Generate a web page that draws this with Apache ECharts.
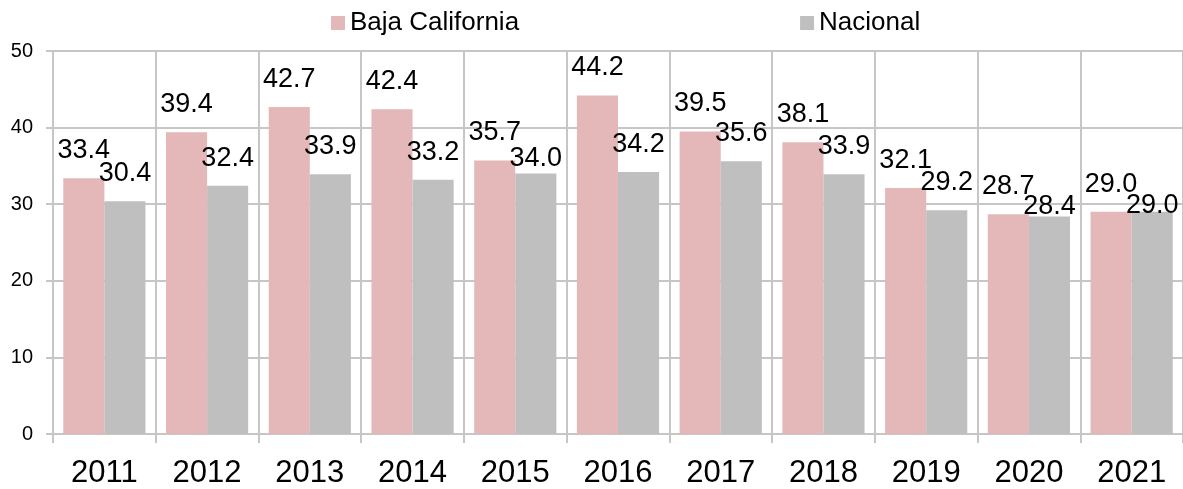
<!DOCTYPE html>
<html>
<head>
<meta charset="utf-8">
<script src="https://cdn.jsdelivr.net/npm/echarts@6/dist/echarts.min.js"></script>
<style>
    html, body { margin: 0; padding: 0; background: #fff; }
    #chart { width: 1183px; height: 489px; }
</style>
</head>
<body>
<div id="chart"></div>
<script>
var years = ['2011', '2012', '2013', '2014', '2015', '2016', '2017', '2018', '2019', '2020', '2021'];
var bajaCalifornia = [33.4, 39.4, 42.7, 42.4, 35.7, 44.2, 39.5, 38.1, 32.1, 28.7, 29.0];
var nacional = [30.4, 32.4, 33.9, 33.2, 34.0, 34.2, 35.6, 33.9, 29.2, 28.4, 29.0];

var myChart = echarts.init(document.getElementById('chart'));
var font = '"Liberation Sans", Arial, sans-serif';
var gridColor = '#c6c6c6';

// some labels were pushed down in the original to avoid overlaps
var nacionalLabelShift = { 4: 12, 9: 18, 10: 21 };

var labelStyle = {
    show: true,
    position: 'top',
    distance: 14,
    color: '#000',
    fontSize: 27,
    fontFamily: font,
    formatter: function (p) { return p.value.toFixed(1); }
};

var nacionalData = nacional.map(function (v, i) {
    if (nacionalLabelShift[i]) {
        return { value: v, label: { offset: [0, nacionalLabelShift[i]] } };
    }
    return v;
});

var option = {
    backgroundColor: '#fff',
    animation: false,
    legend: {
        top: 5,
        left: 326,
        itemWidth: 14,
        itemHeight: 14,
        itemGap: 281,
        icon: 'rect',
        textStyle: { fontSize: 26, fontFamily: font, color: '#000' },
        data: ['Baja California', 'Nacional']
    },
    grid: { left: 53, right: 0, top: 51, bottom: 52 },
    xAxis: {
        type: 'category',
        data: years,
        axisLine: { lineStyle: { color: gridColor, width: 2 } },
        axisTick: { show: true, length: 9, lineStyle: { color: gridColor, width: 2 } },
        splitLine: { show: true, lineStyle: { color: gridColor, width: 2 } },
        axisLabel: { fontSize: 31, fontFamily: font, color: '#000', margin: 24 }
    },
    yAxis: {
        type: 'value',
        min: 0,
        max: 50,
        interval: 10,
        axisLine: { show: true, lineStyle: { color: gridColor, width: 2 } },
        axisTick: { show: true, length: 7, lineStyle: { color: gridColor, width: 2 } },
        splitLine: { show: true, lineStyle: { color: gridColor, width: 2 } },
        axisLabel: { fontSize: 20, fontFamily: font, color: '#000', margin: 20 }
    },
    series: [
        {
            name: 'Baja California',
            type: 'bar',
            data: bajaCalifornia,
            barGap: '0%',
            barCategoryGap: '20%',
            itemStyle: { color: '#e4b7b8' },
            label: labelStyle
        },
        {
            name: 'Nacional',
            type: 'bar',
            data: nacionalData,
            barGap: '0%',
            barCategoryGap: '20%',
            itemStyle: { color: '#bfbfbf' },
            label: labelStyle
        }
    ]
};
myChart.setOption(option);
</script>
</body>
</html>
